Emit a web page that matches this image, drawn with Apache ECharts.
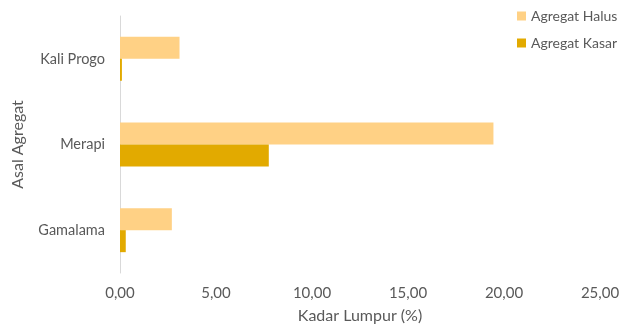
<!DOCTYPE html>
<html><head><meta charset="utf-8">
<script src="https://cdn.jsdelivr.net/npm/echarts@6/dist/echarts.min.js"></script>
<style>html,body{margin:0;padding:0;background:#fff}#c{width:620px;height:327px}</style>
</head><body><div id="c"></div>
<script>
const categories = ['Kali Progo', 'Merapi', 'Gamalama'];
const halus = [3.10, 19.45, 2.70];
const kasar = [0.10, 7.75, 0.30];
const seriesNames = ['Agregat Halus', 'Agregat Kasar'];
const xMin = 0, xMax = 25, xStep = 5;

const font = 'Lato, "Noto Sans", sans-serif';
const grey = '#595959';
const chart = echarts.init(document.getElementById('c'), null, {renderer: 'canvas'});
chart.setOption({
  animation: false,
  textStyle: {fontFamily: font},
  legend: {
    orient: 'vertical', left: 517, top: 9, padding: 0, itemWidth: 9, itemHeight: 9, itemGap: 13,
    icon: 'rect',
    textStyle: {color: grey, fontSize: 14, fontFamily: font},
    data: seriesNames
  },
  grid: {left: 120, right: 20, top: 16, bottom: 54, containLabel: false, outerBoundsMode: 'none'},
  xAxis: {
    type: 'value', min: xMin, max: xMax, interval: xStep,
    axisLine: {show: false}, axisTick: {show: false}, splitLine: {show: false},
    axisLabel: {color: grey, fontSize: 15, fontFamily: font, margin: 13,
      formatter: v => v.toFixed(2).replace('.', ',')},
    name: 'Kadar Lumpur (%)', nameLocation: 'middle', nameGap: 35,
    nameTextStyle: {color: grey, fontSize: 16, fontFamily: font}
  },
  yAxis: {
    type: 'category', data: categories, inverse: true,
    axisLine: {show: true, lineStyle: {color: '#D9D9D9', width: 1}},
    axisTick: {show: false},
    axisLabel: {color: grey, fontSize: 14.5, fontFamily: font, margin: 15},
    name: 'Asal Agregat', nameLocation: 'middle', nameGap: 94, nameRotate: 90,
    nameTextStyle: {color: grey, fontSize: 16, fontFamily: font}
  },
  series: [
    {name: seriesNames[0], type: 'bar', data: halus, barWidth: 22, barGap: '0%',
      itemStyle: {color: '#FFD185'}},
    {name: seriesNames[1], type: 'bar', data: kasar, barWidth: 22, barGap: '0%',
      itemStyle: {color: '#E2AA00'}}
  ]
});
</script></body></html>
